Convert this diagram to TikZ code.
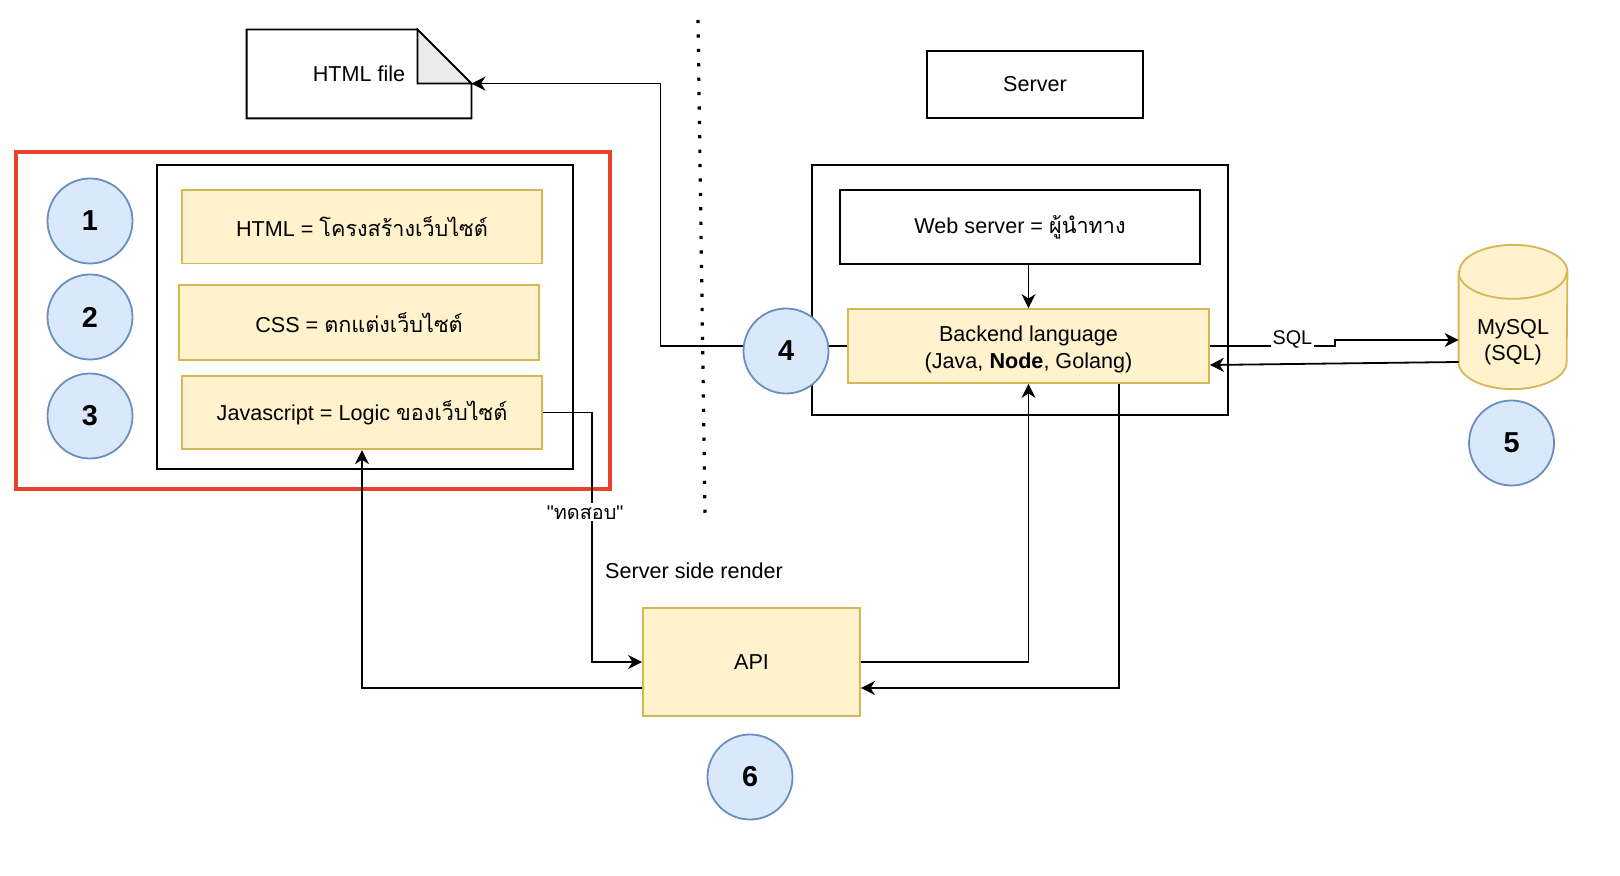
\documentclass[tikz,border=0pt]{standalone}
\usepackage{fontspec}
\setmainfont{Liberation Sans}
\newfontfamily\thaifont[Script=Thai]{Loma}
\newfontfamily\rawfont[Ligatures=TeXOff]{Liberation Sans}
\usetikzlibrary{arrows.meta,calc}
\definecolor{boxfill}{HTML}{FFF2CC}
\definecolor{boxline}{HTML}{D6B656}
\definecolor{numfill}{HTML}{DAE8FC}
\definecolor{numline}{HTML}{6C8EBF}
\definecolor{frame}{RGB}{234,67,45}
\definecolor{foldgray}{HTML}{EBEBEB}
\begin{document}
\begin{tikzpicture}[x=0.5pt,y=-0.5pt,
  every node/.style={font=\fontsize{10.8}{13.3}\selectfont, inner sep=0pt},
  plainbox/.style={draw, line width=0.9pt},
  yellowbox/.style={draw=boxline, fill=boxfill, line width=0.9pt, minimum width=180pt, minimum height=36.75pt},
  num/.style={draw=numline, fill=numfill, circle, line width=0.9pt, minimum size=42.5pt, font=\fontsize{14.4}{16}\selectfont\bfseries},
  link/.style={line width=0.9pt, -{Stealth[length=7pt,width=7pt,inset=2.2pt]}},
  lbl/.style={fill=white, inner sep=1pt, font=\fontsize{9.9}{12}\selectfont}]
\useasboundingbox (0,0) rectangle (1620,876);

\node (file) at (359,74) [minimum width=112pt, minimum height=44pt] {HTML file};
\coordinate (fold) at ($(file.north east)+(0,54)$);
\path[draw, line width=0.9pt] (file.north west) -- ($(file.north east)+(-54,0)$) -- (fold) -- (file.south east) -- (file.south west) -- cycle;
\path[draw, line width=0.9pt, fill=foldgray] ($(file.north east)+(-54,0)$) -- ($(file.north east)+(-54,54)$) -- (fold) -- cycle;

\node[plainbox, minimum width=108pt, minimum height=33.5pt] (server) at (1035,84.5) {Server};

\node[draw=frame, line width=1.6pt, minimum width=297pt, minimum height=168.5pt] (client) at (313,320.5) {};
\node[plainbox, minimum width=208pt, minimum height=152pt] (browser) at (365,317) {};
\node[yellowbox] (html) at (362,226.75) {HTML = {\thaifont โครงสร้างเว็บไซต์}};
\node[yellowbox, minimum height=37.5pt] (css) at (359,322.5) {CSS = {\thaifont ตกแต่งเว็บไซต์}};
\node[yellowbox] (js) at (362,412.5) {Javascript = Logic {\thaifont ของเว็บไซต์}};

\node[plainbox, minimum width=208.25pt, minimum height=125pt] (host) at (1020,290) {};
\node[plainbox, minimum width=180pt, minimum height=36.75pt] (web) at (1020,227) {Web server = {\thaifont ผู้นำทาง}};
\node[yellowbox, minimum width=180.5pt, minimum height=37pt, align=center] (back) at (1028.5,346) {\rule{0pt}{11.3pt}Backend language\\(Java, \textbf{Node}, Golang)};

\node[minimum width=54pt, minimum height=71.75pt] (db) at (1513,317) {};
\path[draw=boxline, fill=boxfill, line width=0.9pt] ($(db.north west)+(0,27)$) -- ($(db.south west)+(0,-27)$) arc (180:0:54 and 27) -- ($(db.north east)+(0,27)$) arc (0:-180:54 and 27) -- cycle;
\path[draw=boxline, line width=0.9pt] ($(db.north west)+(0,27)$) arc (180:0:54 and 27);
\node[align=center] (dbname) at ($(db)+(0,25)$) {MySQL\\(SQL)};

\node[yellowbox, minimum width=108.5pt, minimum height=54.25pt] (api) at (751.5,662) {API};
\node (ssr) at (694,571) {Server side render};

\coordinate (top) at (698,20);
\coordinate (bot) at (705,513);
\path[draw, line width=1.6pt, dash pattern=on 1.6pt off 5.6pt] (top) -- (bot);

\path[draw,link] (back.west) -| ($(fold)+(189,0)$) -- (fold);
\path[draw,link] (web.south -| back.north) -- (back.north);
\path[draw,link] (back.east) -- node[lbl, pos=0.66, yshift=3.5pt] {SQL} ++(125,0) -- ++(0,-6) -- ($(db.west)+(0,23)$);
\path[draw,link] ($(db.west)+(0,45)$) -- ($(back.east)+(0,19)$);
\path[draw,link] (js.east) -| node[lbl, pos=0.7, xshift=-3.5pt] {{\rawfont"}{\thaifont ทดสอบ}{\rawfont"}} ($(api.west)+(-50,0)$) -- (api.west);
\path[draw,link] ($(api.west)+(0,26)$) -| (js.south);
\path[draw,link] (api.east) -| (back.south);
\path[draw,link] ($(back.south)+(90.5,0)$) |- ($(api.east)+(0,26)$);

\node[num] (1) at (90,221) {1};
\node[num] (2) at (90,317) {2};
\node[num] (3) at (90,416) {3};
\node[num] (4) at (786,351) {4};
\node[num] (5) at (1511.5,443) {5};
\node[num] (6) at (750,777) {6};
\end{tikzpicture}
\end{document}
